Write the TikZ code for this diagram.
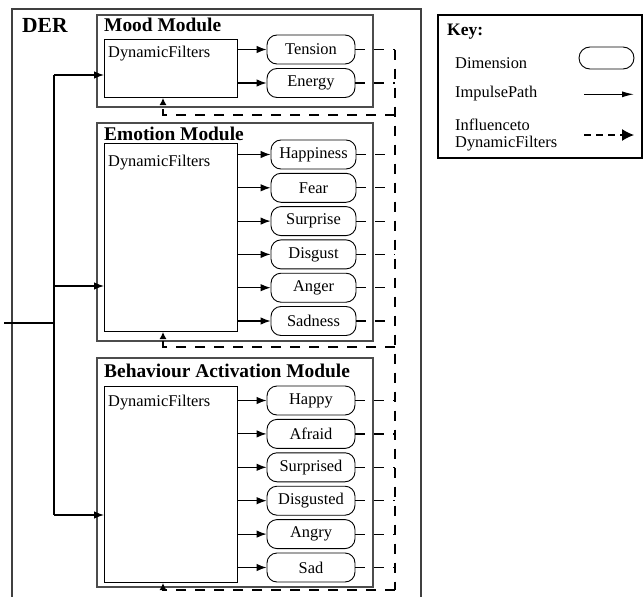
\documentclass[tikz,border=0pt]{standalone}
\usepackage{fontspec}
\setmainfont{Liberation Serif}
\usetikzlibrary{arrows.meta}
\newcommand\dtxt{\fontsize{16.4}{19}\selectfont}
\tikzset{
 derbox/.style={draw=black!75, line width=1.2pt},
 modbox/.style={draw=black!70, line width=1.5pt, anchor=north west, inner sep=0pt},
 filt/.style={draw=black, line width=1pt, anchor=north west, inner sep=0pt},
 dim/.style={draw, line width=0.9pt, rounded corners=10pt, minimum height=29pt, inner sep=0pt, font=\dtxt},
 imp/.style={line width=1.1pt, -{Latex[length=10pt,width=7.5pt]}},
 infl/.style={line width=1.2pt, dash pattern=on 10pt off 9pt},
 fbarrow/.style={line width=1.2pt, dash pattern=on 10pt off 9pt, -{Latex[length=7pt,width=7pt]}},
 ttl/.style={anchor=base west, inner sep=0pt, font=\fontsize{19.4}{22}\selectfont\bfseries},
 lbl/.style={anchor=base west, inner sep=0pt, font=\dtxt},
 wire/.style={line width=1.1pt},
}
\begin{document}
\begin{tikzpicture}[x=1pt,y=-1pt]
\useasboundingbox (0,0) rectangle (643,597);
% DER frame
\draw[derbox] (12,9) rectangle (421,640);
\node[anchor=base west, inner sep=0pt, font=\fontsize{21.5}{24}\selectfont\bfseries] (der) at (22,32) {DER};

% Mood module
\node[modbox, minimum width=276pt, minimum height=92pt] (moodM) at (96,14) {};
\node[ttl] (moodT) at (104,31) {Mood Module};
\node[filt, minimum width=133pt, minimum height=58pt] (moodF) at (104,39) {};
\node[lbl] (moodL) at (108,57) {DynamicFilters};
\node[dim, minimum width=88pt] (ten) at (311,49.5) {Tension};
\node[dim, minimum width=88pt] (ene) at (311,83) {Energy};

% Emotion module
\node[modbox, minimum width=276pt, minimum height=218pt] (emoM) at (96,122) {};
\node[ttl] (emoT) at (104,140) {Emotion Module};
\node[filt, minimum width=133pt, minimum height=188pt] (emoF) at (104,143) {};
\node[lbl] (emoL) at (108,166) {DynamicFilters};
\node[dim, minimum width=85pt] (hap) at (313.5,154.5) {Happiness};
\node[dim, minimum width=85pt] (fea) at (313.5,187.8) {Fear};
\node[dim, minimum width=85pt] (sur) at (313.5,221.1) {Surprise};
\node[dim, minimum width=85pt] (dis) at (313.5,254.4) {Disgust};
\node[dim, minimum width=85pt] (ang) at (313.5,287.7) {Anger};
\node[dim, minimum width=85pt] (sadn) at (313.5,321) {Sadness};

% Behaviour module
\node[modbox, minimum width=276pt, minimum height=229pt] (behM) at (96,357) {};
\node[ttl] (behT) at (104,377) {Behaviour Activation Module};
\node[filt, minimum width=133pt, minimum height=196pt] (behF) at (104,386) {};
\node[lbl] (behL) at (108,406) {DynamicFilters};
\node[dim, minimum width=88pt] (bhap) at (311,400.5) {Happy};
\node[dim, minimum width=88pt] (bafr) at (311,433.9) {Afraid};
\node[dim, minimum width=88pt] (bsur) at (311,467.3) {Surprised};
\node[dim, minimum width=88pt] (bdis) at (311,500.7) {Disgusted};
\node[dim, minimum width=88pt] (bang) at (311,534.1) {Angry};
\node[dim, minimum width=88pt] (bsad) at (311,567.5) {Sad};

% impulse arrows filters -> dimensions
\foreach \d/\f in {ten/moodF,ene/moodF,hap/emoF,fea/emoF,sur/emoF,dis/emoF,ang/emoF,sadn/emoF,bhap/behF,bafr/behF,bsur/behF,bdis/behF,bang/behF,bsad/behF}
  \draw[imp] (\d.west -| \f.east) -- (\d.west);

% input wiring
\coordinate (in0) at (4,323);
\coordinate (jn) at (54,323);
\coordinate (jt) at (54,75);
\coordinate (je) at (54,286);
\coordinate (jb) at (54,515);
\draw[wire] (in0) -- (jn);
\draw[wire] (jt) -- (jb);
\draw[imp] (jt) -- (jt -| moodF.west);
\draw[imp] (je) -- (je -| emoF.west);
\draw[imp] (jb) -- (jb -| behF.west);

% influence (feedback) lines
\coordinate (vx) at (395,0);
\foreach \d in {ten,ene,hap,fea,sur,dis,ang,sadn,bhap,bafr,bsur,bdis,bang,bsad}
  \draw[infl] (\d.east) -- (\d.east -| vx);
\coordinate (mfb) at (163,115);
\coordinate (efb) at (163,347);
\coordinate (bfb) at (163,590);
\draw[infl] (ten.east -| vx) -- (bfb -| vx);
\draw[fbarrow] (mfb -| vx) -- (mfb) -- (mfb |- moodF.south);
\draw[fbarrow] (efb -| vx) -- (efb) -- (efb |- emoF.south);
\draw[fbarrow] (bfb -| vx) -- (bfb) -- (bfb |- behF.south);

% Key
\node[draw, line width=2pt, anchor=north west, minimum width=204pt, minimum height=143pt, inner sep=0pt] (key) at (437,14) {};
\node[anchor=base west, inner sep=0pt, font=\fontsize{17.5}{20}\selectfont\bfseries] (keyT) at (447,35) {Key:};
\node[lbl] (kl1) at (455,68.5) {Dimension};
\node[lbl] (kl2) at (455,97.5) {ImpulsePath};
\node[lbl] (kl3) at (455,130) {Influenceto};
\node[lbl] (kl4) at (455,147.5) {DynamicFilters};
\node[draw, line width=0.9pt, rounded corners=11pt, minimum width=55pt, minimum height=22pt, inner sep=0pt] (kdim) at (606.5,58) {};
\coordinate (ka1) at (584,94.3);
\coordinate (ka2) at (634,94.3);
\coordinate (kb1) at (584,135);
\coordinate (kb2) at (634,135);
\draw[line width=1.1pt, -{Latex[length=12pt,width=6pt]}] (ka1) -- (ka2);
\draw[line width=1.1pt, dash pattern=on 7pt off 5pt, -{Latex[length=12pt,width=12pt]}] (kb1) -- (kb2);
\end{tikzpicture}
\end{document}
